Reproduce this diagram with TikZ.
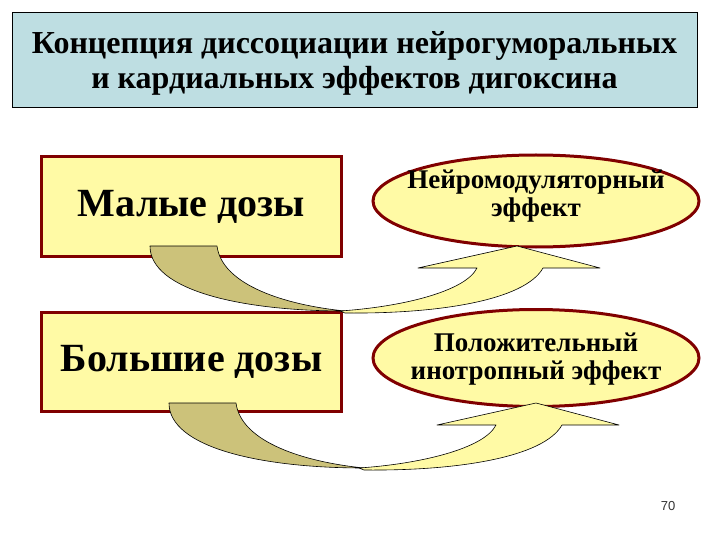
\documentclass[tikz,border=0pt]{standalone}
\usepackage{fontspec}
\setmainfont{Liberation Serif}
\newfontfamily\numfont{Liberation Sans}
\usetikzlibrary{shapes.geometric}
\definecolor{titlefill}{RGB}{190,222,226}
\definecolor{dosefill}{RGB}{255,250,165}
\definecolor{doseline}{RGB}{128,0,0}
\definecolor{backfill}{RGB}{204,194,122}
\tikzset{
  dosebox/.style={draw=doseline,line width=3pt,fill=dosefill,minimum width=300pt,minimum height=100pt,inner sep=0pt,font=\bfseries\fontsize{40}{40}\selectfont},
  effect/.style={ellipse,draw=doseline,line width=3pt,fill=dosefill,minimum width=326pt,minimum height=92pt,inner sep=0pt},
  effecttext/.style={align=center,font=\bfseries\fontsize{27}{28}\selectfont},
  bentarrow/.style={draw=black,line width=0.6pt,line join=round}
}
\begin{document}
\begin{tikzpicture}[x=1pt,y=-1pt]
  \useasboundingbox (0,0) rectangle (720,540);
  % title
  \node[draw,fill=titlefill,minimum width=685pt,minimum height=95pt] (title) at (354.5,59.5) {};
  \node[align=center,font=\bfseries\fontsize{32}{35}\selectfont] (titletext) at (354.5,63)
    {Концепция диссоциации нейрогуморальных\\и кардиальных эффектов дигоксина};
  % doses
  \node[dosebox] (small) at (191.5,206.5) {Малые дозы};
  \node[dosebox,minimum height=99pt] (large) at (191.5,362) {Большие дозы};
  % effects
  \node[effect] (neuro) at (536,201) {};
  \node[effecttext] (neurotext) at (536,196) {Нейромодуляторный\\эффект};
  \node[effect,minimum height=97pt] (inotrop) at (536,358) {};
  \node[effecttext] (inotroptext) at (536,359) {Положительный\\инотропный эффект};
  % bent arrows
  \foreach \dx/\dy in {0/0,19/157}{
    \begin{scope}[shift={(\dx,\dy)}]
      \filldraw[bentarrow,fill=backfill] (150,246) -- (217,246)
        .. controls (222,285) and (285,305) .. (345,311)
        .. controls (240,311) and (150,290) .. (150,246) -- cycle;
      \filldraw[bentarrow,fill=dosefill] (340,311)
        .. controls (400,307) and (465,292) .. (477,268)
        -- (418,268) -- (517,246) -- (600,268) -- (543,268)
        .. controls (525,300) and (440,314) .. (345,313) -- cycle;
    \end{scope}
  }
  \node[font=\numfont\fontsize{13}{13}\selectfont,text=black!80] (page) at (668,506) {70};
\end{tikzpicture}
\end{document}
